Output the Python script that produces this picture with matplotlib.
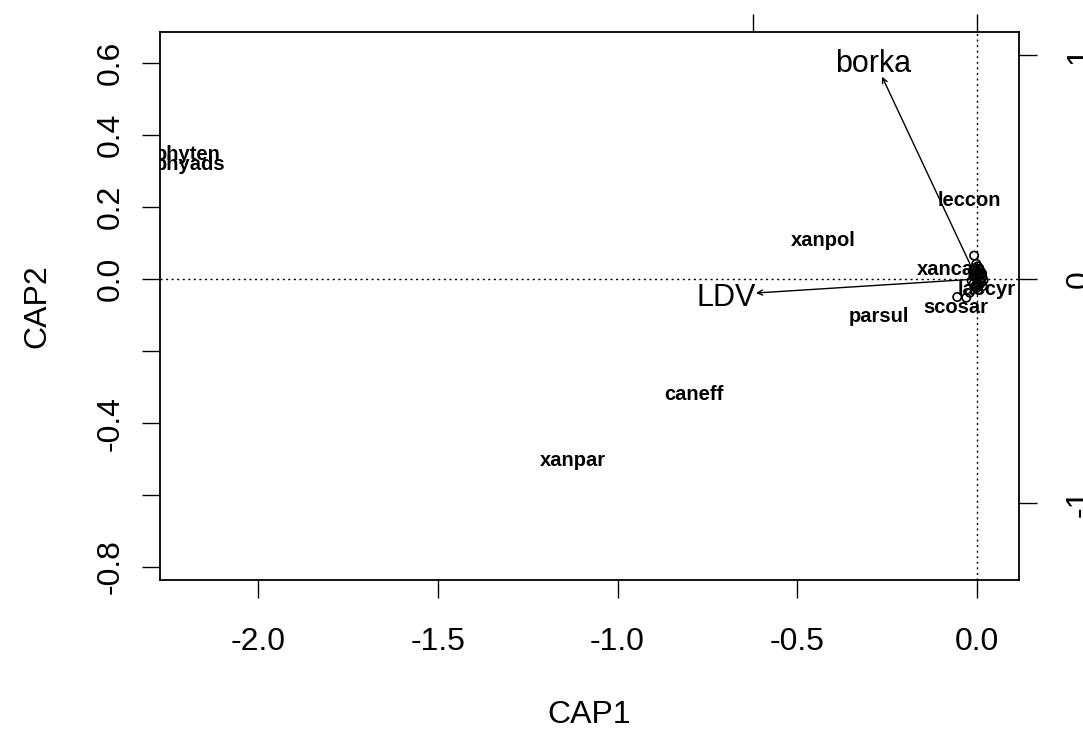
import matplotlib
matplotlib.use('Agg')
from matplotlib import pyplot as plt

plt.rcParams['font.family'] = ['Liberation Sans', 'DejaVu Sans']

# species scores (CAP1, CAP2)
species = ['phyten', 'phyads', 'xanpol', 'leccon', 'xancan', 'laccyr',
           'scosar', 'parsul', 'caneff', 'xanpar']
sp_cap1 = [-2.195, -2.19, -0.428, -0.022, -0.07, 0.028, -0.058, -0.273, -0.787, -1.124]
sp_cap2 = [0.345, 0.318, 0.106, 0.219, 0.025, -0.028, -0.078, -0.103, -0.322, -0.503]

# site scores, all packed round the origin
site_cap1 = [-0.008, -0.055, -0.03, -0.02, -0.005, 0.0, 0.005, 0.01, 0.012,
             0.005, -0.005, 0.015, -0.002, -0.01, 0.008, 0.015, -0.015, 0.003,
             -0.006, 0.002, 0.009, -0.012, 0.018, 0.001, -0.004, 0.011, 0.006,
             -0.009, 0.014, -0.001]
site_cap2 = [0.065, -0.05, -0.052, -0.038, 0.03, 0.02, 0.01, 0.0, -0.01,
             -0.015, -0.02, 0.005, 0.042, 0.01, 0.025, -0.02, -0.005, -0.03,
             0.015, 0.035, 0.018, 0.022, -0.004, -0.008, 0.005, 0.012, 0.028,
             -0.012, 0.016, -0.024]

# biplot arrows for the constraints (own scale, top/right axes)
env_names = ['borka', 'LDV']
env_cap1 = [-0.424, -0.987]
env_cap2 = [0.902, -0.0625]
env_lab1 = [-0.464, -1.118]
env_lab2 = [0.958, -0.083]

mul = 0.623  # arrow units -> CAP units

fig = plt.figure(figsize=(10.83, 7.29), dpi=100)
ax = fig.add_axes([160 / 1083, 1 - 580 / 729, 859 / 1083, 548 / 729])
ax.set_xlim(-2.2726, 0.1168)
ax.set_ylim(-0.836, 0.686)

dot = (0, (1.5, 2.5))
ax.axhline(0, color='black', lw=1, ls=dot, zorder=1)
ax.axvline(0, color='black', lw=1, ls=dot, zorder=1)

for name, x, y in zip(species, sp_cap1, sp_cap2):
    ax.text(x, y, name, ha='center', va='center', fontsize=14.5, fontweight='bold',
            clip_on=True, zorder=3)

ax.scatter(site_cap1, site_cap2, s=36, facecolors='none', edgecolors='black',
           linewidths=1.2, zorder=4)

for name, x, y, lx, ly in zip(env_names, env_cap1, env_cap2, env_lab1, env_lab2):
    ax.annotate('', xy=(x * mul, y * mul), xytext=(0, 0),
                arrowprops=dict(arrowstyle='->', lw=1, color='black',
                                shrinkA=0, shrinkB=0, mutation_scale=9))
    ax.text(lx * mul, ly * mul, name, ha='center', va='center', fontsize=22, zorder=3)

ax.set_xticks([-2.0, -1.5, -1.0, -0.5, 0.0])
ax.set_xticklabels(['-2.0', '-1.5', '-1.0', '-0.5', '0.0'])
ax.set_yticks([0.6, 0.4, 0.2, 0.0, -0.2, -0.4, -0.6, -0.8])
ax.set_yticklabels(['0.6', '0.4', '0.2', '0.0', '', '-0.4', '', '-0.8'], rotation=90,
                   va='center')
ax.tick_params(axis='x', length=13, width=1, labelsize=23, pad=21)
ax.tick_params(axis='y', length=13, width=1, labelsize=23, pad=12)
for sp in ax.spines.values():
    sp.set_linewidth(1.3)

top = ax.secondary_xaxis('top', functions=(lambda v: v / mul, lambda v: v * mul))
top.set_xticks([-1, 0])
top.tick_params(length=13, width=1, labeltop=False)
top.spines['top'].set_visible(False)

right = ax.secondary_yaxis('right', functions=(lambda v: v / mul, lambda v: v * mul))
right.set_yticks([1, 0, -1])
right.set_yticklabels(['1', '0', '-1'], rotation=90, va='center')
right.tick_params(length=13, width=1, labelsize=23, pad=20)
right.spines['right'].set_visible(False)

ax.set_xlabel('CAP1', fontsize=23, labelpad=31)
ax.set_ylabel('CAP2', fontsize=23, labelpad=31)

fig.savefig('out.png', dpi=100)
